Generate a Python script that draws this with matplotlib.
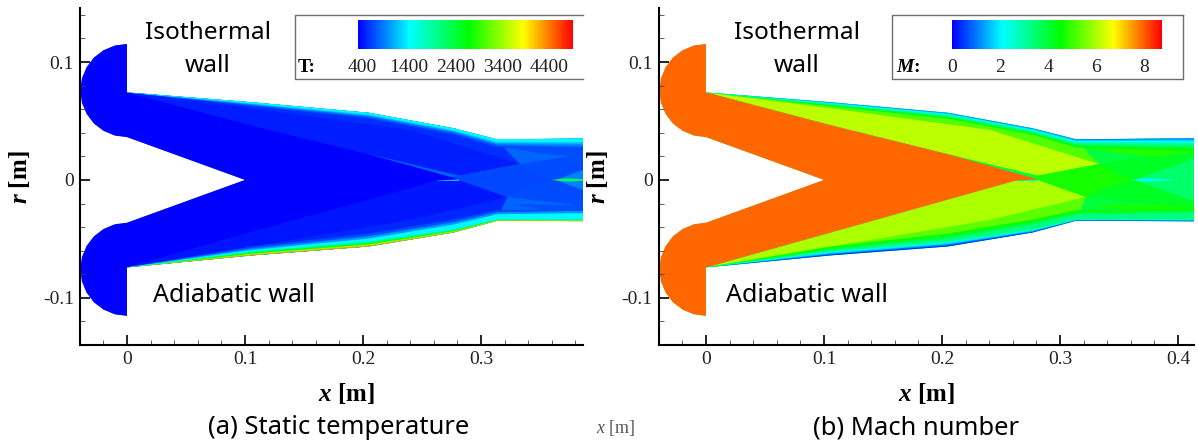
import matplotlib
matplotlib.use('Agg')
import numpy as np
import matplotlib.pyplot as plt
from matplotlib.cm import ScalarMappable
from matplotlib.colors import LinearSegmentedColormap, Normalize
from matplotlib.lines import Line2D
from matplotlib.patches import Polygon
from matplotlib.ticker import MultipleLocator

W, H = 1198, 441
plt.rcParams['font.family'] = 'Liberation Serif'
plt.rcParams['mathtext.fontset'] = 'custom'
plt.rcParams['mathtext.bfit'] = 'Liberation Serif:italic:bold'
plt.rcParams['mathtext.it'] = 'Liberation Serif:italic'

# Geometria (x, r em metros)
arc_x = [0, -0.0102, -0.0198, -0.028, -0.0342, -0.0382, -0.0395, -0.0382, -0.0342, -0.028, -0.0198, -0.0102, 0]
arc_r = [0.1153, 0.114, 0.110, 0.1038, 0.0956, 0.086, 0.0758, 0.0656, 0.056, 0.0478, 0.0416, 0.0376, 0.0363]
tip_x = 0.1
wall_x = [0, 0.105, 0.205, 0.277, 0.3136, 0.42]
upper_wall_r = [0.0743, 0.066, 0.057, 0.0438, 0.0345, 0.0355]
lower_wall_r = [-0.0743, -0.0641, -0.0565, -0.0446, -0.0347, -0.0352]
upper_bl = [0.0002, 0.0035, 0.005, 0.0055, 0.007, 0.011]
lower_bl = [0.0002, 0.0075, 0.011, 0.011, 0.009, 0.012]
lower_hot = [0.5, 1.0, 0.85, 0.5, 0.3, 0.3]

# Regioes do escoamento
wedge_up_x = [0, 0.105, 0.205, 0.277, 0.3136, 0.325, 0.333, 0.2815, 0.202, 0.105]
wedge_up_r = [0.0743, 0.066, 0.057, 0.0438, 0.034, 0.021, 0.0135, 0.0036, 0.0226, 0.0466]
wedge_lo_x = [0, 0.105, 0.205, 0.277, 0.3136, 0.318, 0.322, 0.2815, 0.263, 0.1435]
wedge_lo_r = [-0.0743, -0.0641, -0.0565, -0.0446, -0.0345, -0.023, -0.0144, 0, 0, -0.034]
fan_up_x = [0, 0.205, 0.277, 0.3136, 0.325, 0.333, 0.2407, 0.1]
fan_up_r = [0.0743, 0.057, 0.0438, 0.034, 0.021, 0.0135, 0.0424, 0.0615]
fan_lo_x = [0, 0.205, 0.277, 0.3136, 0.318, 0.322, 0.2407]
fan_lo_r = [-0.0743, -0.0565, -0.0446, -0.0345, -0.023, -0.0144, -0.0339]
mid_x = [0.263, 0.333, 0.345, 0.363, 0.34, 0.322, 0.2815]
mid_r = [0, 0.0135, 0.0065, 0, -0.0065, -0.0144, 0]
top_sector_x = [0.333, 0.43, 0.43, 0.363, 0.345]
top_sector_r = [0.0135, 0.0285, 0.024, 0, 0.0065]
bottom_sector_x = [0.322, 0.43, 0.43, 0.363, 0.34]
bottom_sector_r = [-0.0144, -0.0275, -0.024, 0, -0.0065]
right_x = [0.363, 0.43, 0.43]
right_r = [0, 0.024, -0.024]
lens_up_x = [0.325, 0.38, 0.42, 0.38, 0.35]
lens_up_r = [0.027, 0.0265, 0.0245, 0.0195, 0.0225]
lens_lo_x = [0.325, 0.38, 0.42, 0.38, 0.35]
lens_lo_r = [-0.0205, -0.0215, -0.0235, -0.0265, -0.0245]
streak_x = [0.36, 0.372, 0.4, 0.372]
streak_r = [0, 0.0014, 0, -0.0014]
slip_x = [0.263, 0.2815, 0.2815, 0.263]
slip_r = [0.0006, 0.0006, -0.0006, -0.0006]
core_x = [-0.05, 0, 0, 0.105, 0.202, 0.2815, 0.263, 0.1435, 0, 0, -0.05]
core_r = [0.13, 0.13, 0.0743, 0.0466, 0.0226, 0.0005, -0.0005, -0.034, -0.0743, -0.13, -0.13]

# Valores: base, wedge_up, wedge_lo, fan_up, fan_lo, mid, top, bottom, right, lens_up, lens_lo, streak, slip, core
T_regions = [740, 430, 400, 500, 470, 620, 640, 640, 860, 650, 650, 2300, 1100, 300]
M_regions = [3.9, 6.15, 6.0, 5.2, 5.3, 4.7, 4.2, 4.2, 3.55, 4.8, 4.7, 2.1, 2.8, 7.9]

# Camada limite: da borda externa ate a parede
bl_fractions = [1.0, 0.8, 0.62, 0.46, 0.32, 0.2, 0.1]
T_upper_bl = [620, 760, 950, 1200, 1400, 1500, 1350]
T_lower_bl = [650, 950, 1400, 2000, 2600, 3400, 4300]
M_upper_bl = [4.4, 3.8, 3.2, 2.7, 2.2, 1.6, 1.1]
M_lower_bl = [4.6, 3.9, 3.3, 2.6, 1.8, 1.0, 0.4]

T_ticks = [400, 1400, 2400, 3400, 4400]
M_ticks = [0, 2, 4, 6, 8]
x_ticks_a = [0, 0.1, 0.2, 0.3]
x_ticks_b = [0, 0.1, 0.2, 0.3, 0.4]
y_ticks = [-0.1, 0, 0.1]

rainbow = LinearSegmentedColormap.from_list('rainbow_tecplot', [
    (0, '#0000ff'), (0.24, '#00ffff'), (0.516, '#00ff00'), (0.77, '#ffff00'), (1, '#ff0000')])


def fx(px):
    return px / W


def fy(py):
    return 1 - py / H


def domain_outline():
    up_x = arc_x + [tip_x]
    up_r = arc_r + [0]
    lo_x = arc_x[::-1]
    lo_r = [-r for r in arc_r[::-1]]
    xs = up_x + lo_x + wall_x + wall_x[::-1]
    rs = up_r + lo_r + lower_wall_r + upper_wall_r[::-1]
    return np.column_stack([xs, rs])


def draw_field(ax, norm, regions, up_vals, lo_vals):
    outline = domain_outline()
    dom = Polygon(outline, closed=True, fc='none', ec='none')
    ax.add_patch(dom)

    def fill(xs, rs, val):
        p = Polygon(np.column_stack([xs, rs]), closed=True, fc=rainbow(norm(val)), ec='none', lw=0)
        ax.add_patch(p)
        p.set_clip_path(dom)

    shapes = [(outline[:, 0], outline[:, 1]), (wedge_up_x, wedge_up_r), (wedge_lo_x, wedge_lo_r),
              (fan_up_x, fan_up_r), (fan_lo_x, fan_lo_r), (mid_x, mid_r),
              (top_sector_x, top_sector_r), (bottom_sector_x, bottom_sector_r), (right_x, right_r),
              (lens_up_x, lens_up_r), (lens_lo_x, lens_lo_r), (streak_x, streak_r),
              (slip_x, slip_r), (core_x, core_r)]
    for (xs, rs), val in zip(shapes, regions):
        fill(xs, rs, val)

    wx = np.array(wall_x)
    wr, th = np.array(upper_wall_r), np.array(upper_bl)
    for frac, val in zip(bl_fractions, up_vals):
        fill(np.r_[wx, wx[::-1]], np.r_[wr, (wr - frac * th)[::-1]], val)
    wr, th = np.array(lower_wall_r), np.array(lower_bl)
    hot = np.array(lower_hot)
    for i, (frac, val) in enumerate(zip(bl_fractions, lo_vals)):
        t = frac * th * hot if i >= 3 else frac * th
        fill(np.r_[wx, wx[::-1]], np.r_[wr, (wr + t)[::-1]], val)


def make_panel(left, right, xlim, xticks):
    ax = fig.add_axes([fx(left), fy(345), fx(right - left), (345 - 8) / H])
    ax.set_xlim(xlim)
    ax.set_ylim(-0.14, 0.1458)
    ax.spines['top'].set_visible(False)
    ax.spines['right'].set_visible(False)
    ax.spines['left'].set_linewidth(1.5)
    ax.spines['bottom'].set_linewidth(1.5)
    ax.set_xticks(xticks)
    ax.set_xticklabels(['0' if v == 0 else f'{v:g}' for v in xticks])
    ax.set_yticks(y_ticks)
    ax.set_yticklabels(['0' if v == 0 else f'{v:g}' for v in y_ticks])
    ax.xaxis.set_minor_locator(MultipleLocator(0.02))
    ax.yaxis.set_minor_locator(MultipleLocator(0.02))
    ax.tick_params(which='major', direction='in', length=7, width=1.2, labelsize=14, pad=4.5,
                   labelcolor='#222222')
    ax.tick_params(which='minor', direction='in', length=3.5, width=0.6, color='#444444')
    ax.patch.set_alpha(0)
    return ax


def make_legend(box_l, box_r, open_right, bar_l, bar_r, norm, ticks, label, label_x):
    xs = [box_r, box_l, box_l, box_r]
    ys = [15, 15, 79, 79]
    if not open_right:
        xs = xs + [box_r]
        ys = ys + [15]
    fig.add_artist(Line2D([fx(v) for v in xs], [fy(v) for v in ys], color='#6e6e6e', lw=1.0))
    cax = fig.add_axes([fx(bar_l), fy(49), fx(bar_r - bar_l), 29 / H])
    cb = fig.colorbar(ScalarMappable(norm=norm, cmap=rainbow), cax=cax, orientation='horizontal')
    cb.outline.set_visible(False)
    cb.set_ticks(ticks)
    cb.set_ticklabels([str(t) for t in ticks])
    cax.tick_params(length=0, labelsize=14, pad=7.5, labelcolor='#222222')
    fig.text(fx(label_x), fy(67), label, ha='center', va='center', fontsize=14, fontweight='bold')


fig = plt.figure(figsize=(W / 100, H / 100), dpi=100)

T_norm = Normalize(300, 4920)
M_norm = Normalize(0, 8.75)

ax_a = make_panel(80, 583, (-0.0398, 0.3864), x_ticks_a)
draw_field(ax_a, T_norm, T_regions, T_upper_bl, T_lower_bl)
ax_b = make_panel(659, 1194, (-0.0398, 0.4136), x_ticks_b)
draw_field(ax_b, M_norm, M_regions, M_upper_bl, M_lower_bl)

make_legend(295, 583, True, 358, 573, T_norm, T_ticks, 'T:', 307)
make_legend(892, 1183, False, 952, 1162, M_norm, M_ticks, r'$\mathbfit{M}$:', 908)

sans = 'Noto Sans'
for x0, y0 in [(208, 33), (797, 33)]:
    fig.text(fx(x0), fy(y0), 'Isothermal', ha='center', va='center', family=sans, fontsize=17.6)
    fig.text(fx(x0), fy(y0 + 33), 'wall', ha='center', va='center', family=sans, fontsize=17.6)
fig.text(fx(234), fy(295), 'Adiabatic wall', ha='center', va='center', family=sans, fontsize=18)
fig.text(fx(807), fy(296), 'Adiabatic wall', ha='center', va='center', family=sans, fontsize=18)

fig.text(fx(339), fy(428), '(a) Static temperature', ha='center', va='center', family=sans, fontsize=18.4)
fig.text(fx(916), fy(428), '(b) Mach number', ha='center', va='center', family=sans, fontsize=18.4)

for x0 in [346, 926]:
    fig.text(fx(x0), fy(393), r'$\mathbfit{x}$ [m]', ha='center', va='center', fontsize=18, fontweight='bold')
for x0 in [19, 598]:
    fig.text(fx(x0), fy(177), r'$\mathbfit{r}$ [m]', ha='center', va='center', rotation=90,
             fontsize=18, fontweight='bold')
fig.text(fx(616), fy(428), r'$\mathit{x}$ [m]', ha='center', va='center', fontsize=13, color='#555555')

fig.savefig('out.png', dpi=100)
